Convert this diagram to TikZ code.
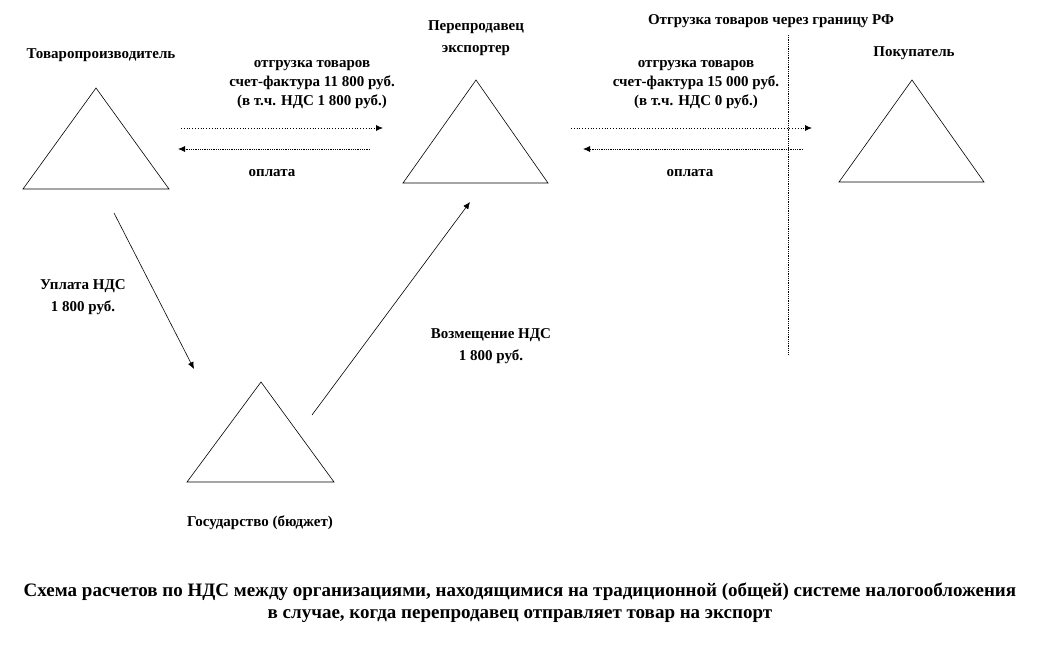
\documentclass[tikz,border=0pt]{standalone}
\usepackage{fontspec}
\setmainfont{Liberation Serif}
\usetikzlibrary{arrows.meta}
\tikzset{
  lbl/.style={font=\bfseries\fontsize{15}{19}\selectfont, align=center, inner sep=0pt},
  captxt/.style={font=\bfseries\fontsize{19}{22}\selectfont, align=center, inner sep=0pt},
  tri/.style={draw, line width=0.6pt},
  flow/.style={dotted, line width=0.8pt, -{Latex[length=7pt,width=6pt]}},
  flowd/.style={densely dotted, line width=0.8pt, -{Latex[length=7pt,width=6pt]}},
  diag/.style={line width=0.6pt, -{Latex[length=7pt,width=6pt]}},
  borderline/.style={densely dotted, line width=0.8pt}
}
\begin{document}
\begin{tikzpicture}[x=1pt,y=-1pt]
\useasboundingbox (0,0) rectangle (1039,653);
% triangles
\draw[tri] (96,88) -- (169,189) -- (23,189) -- cycle;
\draw[tri] (476,80) -- (548,183) -- (403,183) -- cycle;
\draw[tri] (912,80) -- (984,182) -- (839,182) -- cycle;
\draw[tri] (261,382) -- (334,482) -- (187,482) -- cycle;
% labels of parties
\node[lbl] (prod) at (101,55) {Товаропроизводитель};
\node[lbl, font=\bfseries\fontsize{15}{22}\selectfont] (resell) at (476,38) {Перепродавец\\экспортер};
\node[lbl] (buyer) at (914,53) {Покупатель};
\node[lbl] (state) at (260,523) {Государство (бюджет)};
\node[lbl] (border) at (771,21) {Отгрузка товаров через границу РФ};
% flow labels
\node[lbl] (ship1) at (312,85) {отгрузка товаров\\счет-фактура 11 800 руб.\\(в т.ч. НДС 1 800 руб.)};
\node[lbl] (pay1) at (272,173) {оплата};
\node[lbl] (ship2) at (696,85) {отгрузка товаров\\счет-фактура 15 000 руб.\\(в т.ч. НДС 0 руб.)};
\node[lbl] (pay2) at (690,173) {оплата};
\node[lbl, font=\bfseries\fontsize{15}{22}\selectfont] (vatpay) at (83,297) {Уплата НДС\\1 800 руб.};
\node[lbl, font=\bfseries\fontsize{15}{22}\selectfont] (vatref) at (491,346) {Возмещение НДС\\1 800 руб.};
% connector endpoints
\coordinate (a1s) at (181,128); \coordinate (a1e) at (383,128);
\coordinate (a2s) at (370,149); \coordinate (a2e) at (178,149);
\coordinate (b1s) at (571,128); \coordinate (b1e) at (812,128);
\coordinate (b2s) at (803,149); \coordinate (b2e) at (583,149);
\coordinate (c1s) at (114,213); \coordinate (c1e) at (194,369);
\coordinate (c2s) at (312,415); \coordinate (c2e) at (470,202);
\coordinate (bt) at (788,35); \coordinate (bb) at (788,355);
\draw[flow] (a1s) -- (a1e);
\draw[flowd] (a2s) -- (a2e);
\draw[flow] (b1s) -- (b1e);
\draw[flowd] (b2s) -- (b2e);
\draw[diag] (c1s) -- (c1e);
\draw[diag] (c2s) -- (c2e);
\draw[borderline] (bt) -- (bb);
% caption
\node[captxt] (caption) at (520,603) {Схема расчетов по НДС между организациями, находящимися на традиционной (общей) системе налогообложения\\в случае, когда перепродавец отправляет товар на экспорт};
\end{tikzpicture}
\end{document}
